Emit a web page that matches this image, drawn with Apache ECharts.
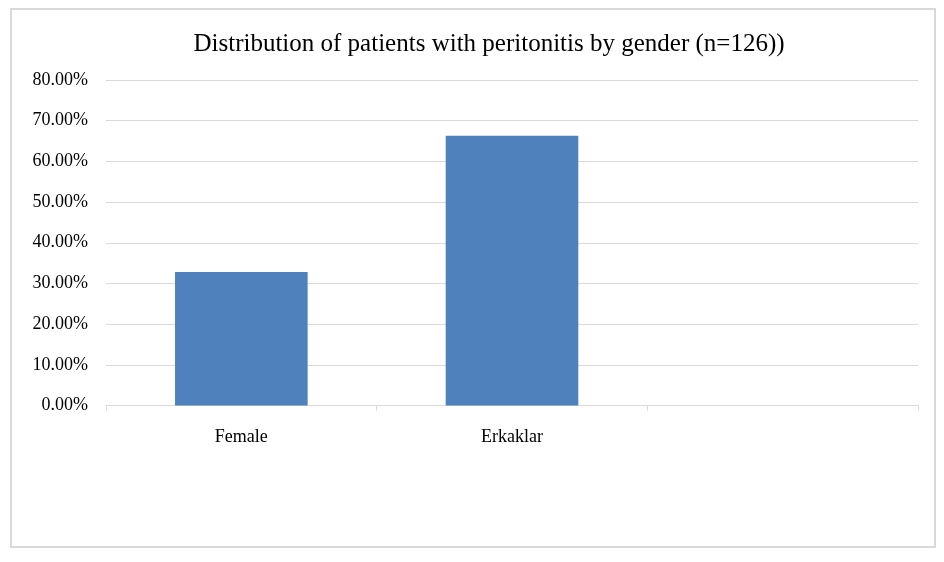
<!DOCTYPE html>
<html>
<head>
<meta charset="utf-8">
<script src="https://cdn.jsdelivr.net/npm/echarts@6/dist/echarts.min.js"></script>
<style>html,body{margin:0;padding:0;background:#fff}#c{width:944px;height:562px}</style>
</head>
<body>
<div id="c"></div>
<script>
const titleText = 'Distribution of patients with peritonitis by gender (n=126))';
const categories = ['Female', 'Erkaklar', ''];
const values = [32.8, 66.3, null];
const yTicks = { min: 0, max: 80, interval: 10 };

const chart = echarts.init(document.getElementById('c'));
const serif = '"Liberation Serif", "Times New Roman", serif';
chart.setOption({
  animation: false,
  backgroundColor: '#fff',
  graphic: [{
    type: 'rect', shape: { x: 11, y: 9, width: 924, height: 538 },
    style: { fill: 'none', stroke: '#d9d9d9', lineWidth: 2 }, silent: true, z: -1
  }],
  title: {
    text: titleText, left: 484, top: 27, textAlign: 'center',
    textStyle: { fontFamily: serif, fontSize: 25, fontWeight: 'normal', color: '#000' }
  },
  grid: { left: 106, right: 26, top: 80, bottom: 156.5 },
  xAxis: {
    type: 'category', data: categories, boundaryGap: true,
    axisLine: { lineStyle: { color: '#d9d9d9', width: 1 } },
    axisTick: { show: true, length: 5, interval: 0, lineStyle: { color: '#d9d9d9' } },
    axisLabel: { margin: 23, interval: 0, fontFamily: serif, fontSize: 18, color: '#000' }
  },
  yAxis: {
    type: 'value', min: yTicks.min, max: yTicks.max, interval: yTicks.interval,
    axisLine: { show: false }, axisTick: { show: false },
    splitLine: { lineStyle: { color: '#d9d9d9', width: 1 } },
    axisLabel: { margin: 18, fontFamily: serif, fontSize: 18, color: '#000',
      formatter: v => v.toFixed(2) + '%' }
  },
  series: [{
    type: 'bar', data: values, barWidth: '49%',
    itemStyle: { color: '#4f81bd' }
  }]
});
</script>
</body>
</html>
